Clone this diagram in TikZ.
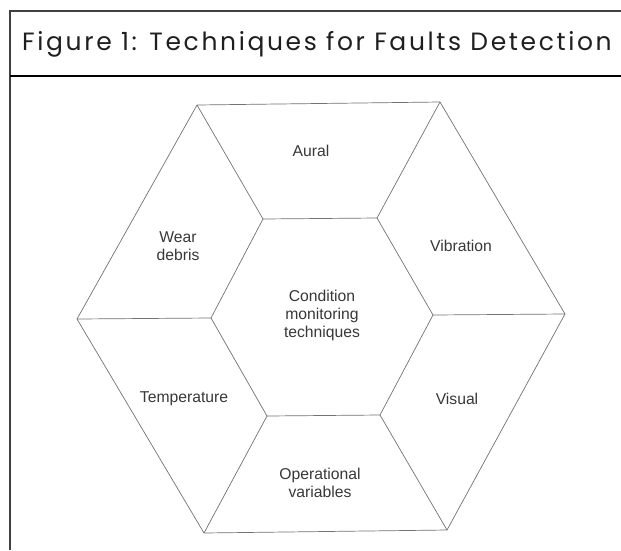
\documentclass[tikz,border=0pt]{standalone}
\usepackage{fontspec}
\setmainfont{Liberation Sans}
\newfontfamily\titlefont[LetterSpace=10.5]{Poppins}
\begin{document}
\begin{tikzpicture}[x=1pt,y=-1pt,
  hexline/.style={draw=black!55, line width=0.7pt, line join=round},
  lbl/.style={font=\fontsize{15.7}{18}\selectfont, text=black!78, align=center, inner sep=0pt}]
\useasboundingbox (0,0) rectangle (621,550);
\fill[white] (0,0) rectangle (621,550);
% frame
\draw[black!75, line width=1.6pt] (621,11) -- (10,11) -- (10,550);
\draw[black, line width=2.6pt] (10,76) -- (621,76);
\node[anchor=west, inner sep=0pt, text=black!88, font=\titlefont\fontsize{25}{28}\selectfont] (title) at (22,44) {Figure 1: Techniques for Faults Detection};
% outer hexagon
\coordinate (O1) at (197,105);
\coordinate (O2) at (440,102);
\coordinate (O3) at (565,314);
\coordinate (O4) at (447,530);
\coordinate (O5) at (204,533);
\coordinate (O6) at (77,319);
% inner hexagon
\coordinate (I1) at (263,219);
\coordinate (I2) at (377,218);
\coordinate (I3) at (433,315);
\coordinate (I4) at (380,415);
\coordinate (I5) at (267,416);
\coordinate (I6) at (211,318);
\draw[hexline] (O1) -- (O2) -- (O3) -- (O4) -- (O5) -- (O6) -- cycle;
\draw[hexline] (I1) -- (I2) -- (I3) -- (I4) -- (I5) -- (I6) -- cycle;
\foreach \k in {1,...,6} { \draw[hexline] (I\k) -- (O\k); }
% labels
\node[lbl] (aural) at (311,151) {Aural};
\node[lbl] (wear) at (178,246) {Wear\\debris};
\node[lbl] (vib) at (461,246) {Vibration};
\node[lbl] (cond) at (322,315) {Condition\\monitoring\\techniques};
\node[lbl] (temp) at (184,399) {Temperature};
\node[lbl] (visual) at (457,399) {Visual};
\node[lbl] (oper) at (320,483) {Operational\\variables};
\end{tikzpicture}
\end{document}
